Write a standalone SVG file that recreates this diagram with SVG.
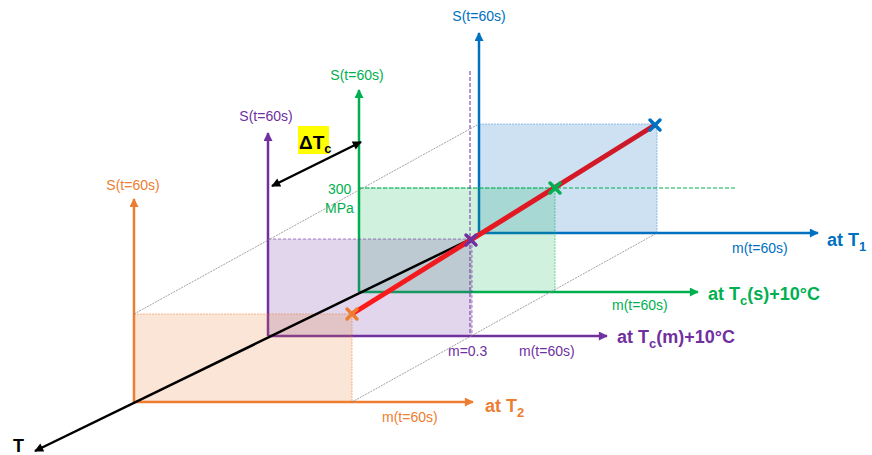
<svg xmlns="http://www.w3.org/2000/svg" width="872" height="455" viewBox="0 0 872 455">
<style>
text{font-family:"Liberation Sans",Arial,sans-serif}
.s{font-size:14px;text-anchor:middle}
.m{font-size:14px}
.b{font-size:18px;font-weight:bold}
.ax{fill:none;stroke-width:2.5}
.guide{fill:none;stroke:#8a8a8a;stroke-width:0.8;stroke-dasharray:2 1}
.x{fill:none;stroke-width:3.5;stroke-linecap:round}
.blue{stroke:#0070C0}.green{stroke:#00B050}.purple{stroke:#7030A0}.orange{stroke:#ED7D31}
.tb{fill:#0070C0}.tg{fill:#00B050}.tp{fill:#7030A0}.to{fill:#ED7D31}
</style>
<defs>
<marker id="aB" viewBox="0 0 10 10" refX="9" refY="5" markerWidth="10" markerHeight="9" markerUnits="userSpaceOnUse" orient="auto"><path d="M0,0 L10,5 L0,10 z" fill="#0070C0"/></marker>
<marker id="aG" viewBox="0 0 10 10" refX="9" refY="5" markerWidth="10" markerHeight="9" markerUnits="userSpaceOnUse" orient="auto"><path d="M0,0 L10,5 L0,10 z" fill="#00B050"/></marker>
<marker id="aP" viewBox="0 0 10 10" refX="9" refY="5" markerWidth="10" markerHeight="9" markerUnits="userSpaceOnUse" orient="auto"><path d="M0,0 L10,5 L0,10 z" fill="#7030A0"/></marker>
<marker id="aO" viewBox="0 0 10 10" refX="9" refY="5" markerWidth="10" markerHeight="9" markerUnits="userSpaceOnUse" orient="auto"><path d="M0,0 L10,5 L0,10 z" fill="#ED7D31"/></marker>
<marker id="aK" viewBox="0 0 10 10" refX="9" refY="5" markerWidth="10" markerHeight="9" markerUnits="userSpaceOnUse" orient="auto-start-reverse"><path d="M0,0 L10,5 L0,10 z" fill="#000"/></marker>
<linearGradient id="rg" x1="352" y1="314" x2="655" y2="125" gradientUnits="userSpaceOnUse"><stop offset="0" stop-color="#FF1A1A"/><stop offset="1" stop-color="#C8182A"/></linearGradient>
</defs>

<g id="blue-plane">
<rect x="479" y="124" width="178" height="109" fill="#5B9BD5" fill-opacity="0.3" stroke="#5B9BD5" stroke-opacity="0.6" stroke-width="1" stroke-dasharray="2 1"/>
<path class="ax blue" d="M479,233 V33" marker-end="url(#aB)"/>
<path class="ax blue" d="M479,233 H818" marker-end="url(#aB)"/>
<text class="s tb" x="479" y="21">S(t=60s)</text>
<text class="m tb" x="732" y="253">m(t=60s)</text>
<text class="b tb" x="827" y="246">at T<tspan font-size="13" dy="5">1</tspan></text>
</g>

<g id="green-plane">
<rect x="359" y="188" width="196" height="104" fill="#00B050" fill-opacity="0.18" stroke="#00B050" stroke-opacity="0.5" stroke-width="1" stroke-dasharray="2 1"/>
<path d="M359,188 H735" fill="none" stroke="#00B050" stroke-width="1" stroke-dasharray="4 2"/>
<path class="ax green" d="M359,292 V90" marker-end="url(#aG)"/>
<path class="ax green" d="M359,292 H698" marker-end="url(#aG)"/>
<text class="s tg" x="357" y="80">S(t=60s)</text>
<text class="m tg" x="328" y="194">300</text>
<text class="m tg" x="325" y="213">MPa</text>
<text class="m tg" x="612" y="310">m(t=60s)</text>
<text class="b tg" x="708" y="300">at T<tspan font-size="13" dy="5">c</tspan><tspan dy="-5">(s)+10°C</tspan></text>
</g>

<g id="purple-plane">
<rect x="268" y="239" width="204" height="97" fill="#7030A0" fill-opacity="0.2" stroke="#7030A0" stroke-opacity="0.6" stroke-width="1" stroke-dasharray="3 2"/>
<path d="M470,71 V336" fill="none" stroke="#7030A0" stroke-width="1" stroke-dasharray="4 2"/>
<path class="ax purple" d="M268,336 V133" marker-end="url(#aP)"/>
<path class="ax purple" d="M268,336 H607" marker-end="url(#aP)"/>
<text class="s tp" x="266" y="121">S(t=60s)</text>
<text class="m tp" x="448" y="356">m=0.3</text>
<text class="m tp" x="519" y="356">m(t=60s)</text>
<text class="b tp" x="617" y="343">at T<tspan font-size="13" dy="5">c</tspan><tspan dy="-5">(m)+10°C</tspan></text>
</g>

<g id="orange-plane">
<rect x="134" y="314" width="218" height="88" fill="#ED7D31" fill-opacity="0.2" stroke="#ED7D31" stroke-opacity="0.5" stroke-width="1" stroke-dasharray="2 1"/>
<path class="ax orange" d="M134,402 V199" marker-end="url(#aO)"/>
<path class="ax orange" d="M134,402 H473" marker-end="url(#aO)"/>
<text class="s to" x="133" y="190">S(t=60s)</text>
<text class="m to" x="382" y="422">m(t=60s)</text>
<text class="b to" x="485" y="412">at T<tspan font-size="13" dy="5">2</tspan></text>
</g>

<g id="connectors">
<path class="guide" d="M134,314 L479,124"/>
<path class="guide" d="M352,402 L657,233"/>
<path d="M479,235 L35,451" fill="none" stroke="#000" stroke-width="2.5" marker-end="url(#aK)"/>
<path d="M272,186 L361,142" fill="none" stroke="#000" stroke-width="2.5" marker-start="url(#aK)" marker-end="url(#aK)"/>
<path d="M352,314 L655,125" fill="none" stroke="url(#rg)" stroke-width="5"/>
</g>

<g id="markers">
<path class="x blue" d="M650,120 L660,130 M660,120 L650,130"/>
<path class="x green" d="M550,183 L560,193 M560,183 L550,193"/>
<path class="x purple" d="M466,235 L476,245 M476,235 L466,245"/>
<path class="x orange" d="M347,309 L357,319 M357,309 L347,319"/>
</g>

<g id="delta-label">
<rect x="298" y="126" width="31" height="28" fill="#FFFF00"/>
<text x="299" y="149" font-size="19" font-weight="bold" fill="#000">ΔT<tspan font-size="13" dy="4">c</tspan></text>
</g>

<g id="T-label">
<text x="13" y="452" font-size="18" font-weight="bold" fill="#000">T</text>
</g>
</svg>
